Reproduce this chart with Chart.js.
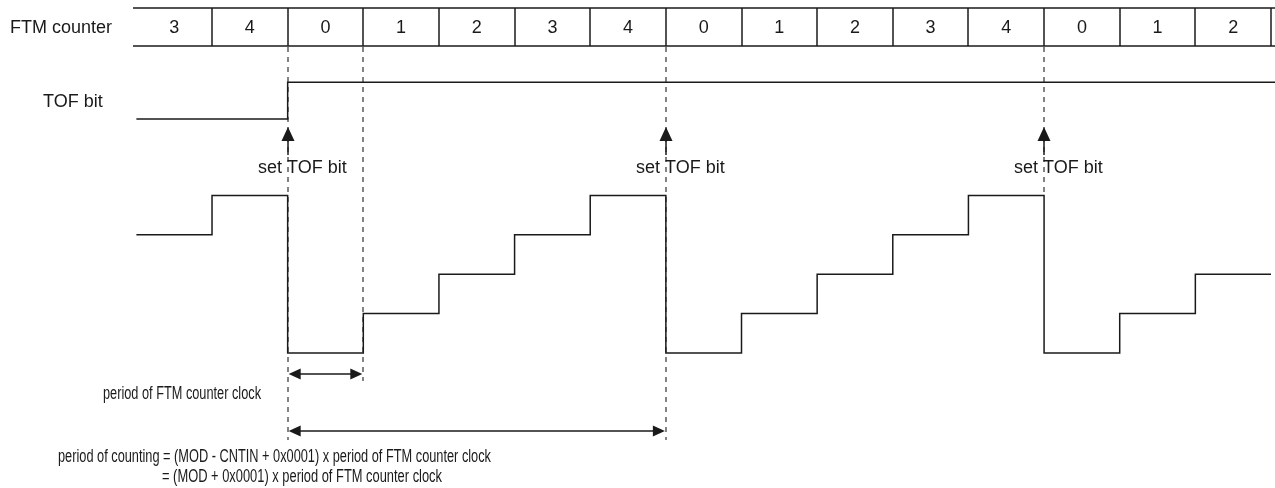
<!DOCTYPE html>
<html>
<head>
<meta charset="utf-8">
<title>FTM counter / TOF bit timing</title>
<script src="https://cdn.jsdelivr.net/npm/chart.js@4.4.1/dist/chart.umd.min.js"></script>
<style>
    html, body { margin: 0; padding: 0; background: #ffffff; }
    #wrap { position: relative; width: 1275px; height: 488px; }
</style>
</head>
<body>
<div id="wrap"><canvas id="timingChart"></canvas></div>
<script>

// FTM COUNTER VALUE IN EACH CLOCK CELL
const counterValues = [3, 4, 0, 1, 2, 3, 4, 0, 1, 2, 3, 4, 0, 1, 2];

// TOF BIT STATE IN EACH CLOCK CELL
const tofBit = [0, 0, 1, 1, 1, 1, 1, 1, 1, 1, 1, 1, 1, 1, 1];

// ROW LABELS AND NOTES
const rowLabels = ['FTM counter', 'TOF bit'];
const setTofLabel = 'set TOF bit';
const clockPeriodCells = [2, 3];
const countingPeriodCells = [2, 7];
const clockPeriodLabel = 'period of FTM counter clock';
const countingLabels = [
    'period of counting = (MOD - CNTIN + 0x0001) x period of FTM counter clock',
    '= (MOD + 0x0001) x period of FTM counter clock'
];

const FONT = '"Liberation Sans", Arial, Helvetica, sans-serif';
const INK = '#1a1a1a';

// cells where the counter wraps back to 0 (TOF gets set)
const overflowCells = counterValues
    .map((v, i) => (i > 0 && v === 0 ? i : -1))
    .filter((i) => i >= 0);

const cellCount = counterValues.length;

const X_MIN = -1.803;
const X_MAX = 15.053;

// step points: value held across cell k, edge at k + 1
const waveformPoints = counterValues.map((v, k) => ({ x: k, y: v }));
waveformPoints.push({ x: cellCount, y: counterValues[cellCount - 1] });

const tofPoints = tofBit.map((v, k) => ({ x: k, y: v }));
tofPoints.push({ x: X_MAX, y: tofBit[cellCount - 1] });

function drawLine(ctx, x1, y1, x2, y2) {
    ctx.beginPath();
    ctx.moveTo(x1, y1);
    ctx.lineTo(x2, y2);
    ctx.stroke();
}

function arrowHead(ctx, tipX, tipY, dirX, dirY, len, half) {
    // dir is a unit vector pointing toward the tip
    const bx = tipX - dirX * len;
    const by = tipY - dirY * len;
    ctx.beginPath();
    ctx.moveTo(tipX, tipY);
    ctx.lineTo(bx - dirY * half, by + dirX * half);
    ctx.lineTo(bx + dirY * half, by - dirX * half);
    ctx.closePath();
    ctx.fill();
}

function doubleArrow(ctx, x1, x2, y) {
    ctx.lineWidth = 1.5;
    drawLine(ctx, x1 + 10, y, x2 - 10, y);
    arrowHead(ctx, x1 + 1, y, -1, 0, 12, 5.5);
    arrowHead(ctx, x2 - 1, y, 1, 0, 12, 5.5);
}

const timingPlugin = {

    id: 'timingDiagram',

    beforeDatasetsDraw(chart) {

        const ctx = chart.ctx;
        const xs = chart.scales.x;

        // DASHED MARKERS
        const markers = [
            { cell: clockPeriodCells[0], bottom: 440 },
            { cell: clockPeriodCells[1], bottom: 381 },
            { cell: countingPeriodCells[1], bottom: 440 }
        ];

        overflowCells.forEach((c) => {
            if (!markers.some((m) => m.cell === c)) {
                markers.push({ cell: c, bottom: 196 });
            }
        });

        ctx.save();
        ctx.strokeStyle = '#333';
        ctx.lineWidth = 1.2;
        ctx.setLineDash([5, 5]);

        markers.forEach((m) => {
            const px = Math.round(xs.getPixelForValue(m.cell));
            drawLine(ctx, px, 47, px, m.bottom);
        });

        ctx.restore();
    },

    afterDatasetsDraw(chart) {

        const ctx = chart.ctx;
        const xs = chart.scales.x;

        ctx.save();
        ctx.strokeStyle = INK;
        ctx.fillStyle = INK;
        ctx.lineWidth = 1.5;

        // COUNTER TABLE
        const tableTop = 8;
        const tableBottom = 46;
        const tableLeft = 133;

        drawLine(ctx, tableLeft, tableTop, chart.width, tableTop);
        drawLine(ctx, tableLeft, tableBottom, chart.width, tableBottom);

        for (let k = 1; k <= cellCount; k++) {
            const px = Math.round(xs.getPixelForValue(k));
            drawLine(ctx, px, tableTop, px, tableBottom);
        }

        ctx.font = '18px ' + FONT;
        ctx.textAlign = 'center';
        ctx.textBaseline = 'middle';

        counterValues.forEach((v, k) => {
            const cx = (xs.getPixelForValue(k) + xs.getPixelForValue(k + 1)) / 2;
            ctx.fillText(String(v), cx, 28);
        });

        // ROW LABELS
        ctx.textAlign = 'left';
        ctx.fillText(rowLabels[0], 10, 28);
        ctx.fillText(rowLabels[1], 43, 102);

        // SET TOF BIT ARROWS
        overflowCells.forEach((c) => {
            const px = Math.round(xs.getPixelForValue(c));
            ctx.lineWidth = 1.5;
            drawLine(ctx, px, 138, px, 155);
            arrowHead(ctx, px, 127, 0, -1, 14, 6.5);
            ctx.textAlign = 'left';
            ctx.fillText(setTofLabel, px - 30, 168);
        });

        // PERIOD ARROWS
        const c1 = xs.getPixelForValue(clockPeriodCells[0]);
        const c2 = xs.getPixelForValue(clockPeriodCells[1]);
        doubleArrow(ctx, c1, c2, 374);

        const p1 = xs.getPixelForValue(countingPeriodCells[0]);
        const p2 = xs.getPixelForValue(countingPeriodCells[1]);
        doubleArrow(ctx, p1, p2, 431);

        // condensed note text
        ctx.font = '18px ' + FONT;
        ctx.textAlign = 'left';
        ctx.fillText(clockPeriodLabel, 103, 394, 158);
        ctx.fillText(countingLabels[0], 58, 457, 433);
        ctx.fillText(countingLabels[1], 162, 477, 280);

        ctx.restore();
    }
};

function generateTimingChart() {

    const ctx = document
        .getElementById('timingChart')
        .getContext('2d');

    new Chart(ctx, {

        type: 'line',

        data: {

            datasets: [

                {
                    label: 'FTM counter',
                    data: waveformPoints,
                    yAxisID: 'yWave',
                    stepped: 'before',
                    borderColor: INK,
                    borderWidth: 1.5,
                    pointRadius: 0,
                    fill: false
                },

                {
                    label: 'TOF bit',
                    data: tofPoints,
                    yAxisID: 'yTof',
                    stepped: 'before',
                    borderColor: INK,
                    borderWidth: 1.5,
                    pointRadius: 0,
                    fill: false
                }

            ]
        },

        options: {

            responsive: true,

            maintainAspectRatio: false,

            animation: false,

            layout: {
                padding: 0
            },

            plugins: {

                legend: {
                    display: false
                },

                tooltip: {
                    enabled: false
                }
            },

            scales: {

                x: {
                    type: 'linear',
                    min: X_MIN,
                    max: X_MAX,
                    display: false
                },

                yWave: {
                    type: 'linear',
                    min: -3.426,
                    max: 8.959,
                    display: false
                },

                yTof: {
                    type: 'linear',
                    min: -10.054,
                    max: 3.243,
                    display: false
                }
            }
        },

        plugins: [timingPlugin]
    });
}

generateTimingChart();

</script>
</body>
</html>
